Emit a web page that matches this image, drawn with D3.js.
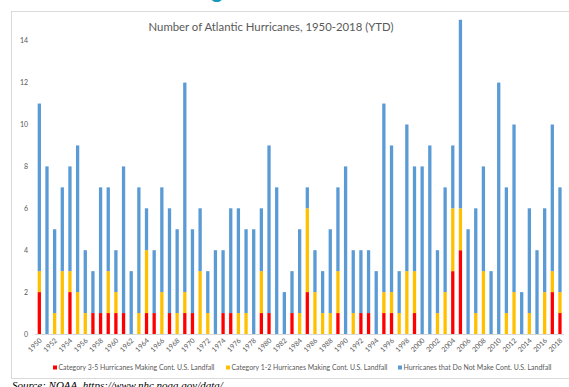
<!DOCTYPE html>
<html><head><meta charset="utf-8">
<script src="https://cdn.jsdelivr.net/npm/d3@7"></script>
<style>body{margin:0;background:#fff;overflow:hidden}svg{display:block}</style>
</head><body><svg id="c" width="569" height="387"></svg>
<script>
const years = d3.range(1950, 2019);
const cat35 = [2,0,0,0,2,0,0,1,1,1,1,1,0,0,1,1,0,1,0,1,1,0,0,0,1,1,0,0,0,1,1,0,0,1,0,2,0,0,0,1,0,0,1,1,0,1,1,0,0,1,0,0,0,0,3,4,0,0,0,0,0,0,0,0,0,0,0,2,1];
const cat12 = [1,0,1,3,1,2,1,0,0,2,1,0,0,1,3,0,2,0,1,1,0,3,1,0,0,0,1,1,0,2,0,0,0,0,1,4,2,1,1,2,0,1,0,0,0,1,1,1,3,2,0,0,1,2,3,2,0,1,3,0,0,1,2,0,1,0,2,1,1];
const totals = [11,8,5,7,8,9,4,3,7,7,4,8,3,7,6,4,7,6,5,12,5,6,3,4,4,6,6,5,5,6,9,7,2,3,5,7,4,3,5,7,8,4,4,4,3,11,9,3,10,8,8,9,4,7,9,15,5,6,8,3,12,7,10,2,6,4,6,10,7];
const seriesNames = ["Category 3-5 Hurricanes Making Cont. U.S. Landfall","Category 1-2 Hurricanes Making Cont. U.S. Landfall","Hurricanes that Do Not Make Cont. U.S. Landfall"];
const colors = ["#FF0000","#FFC000","#5B9BD5"];
const yTicks = [0,2,4,6,8,10,12,14];

const data = years.map((y,i)=>({year:y, a:cat35[i], b:cat12[i], c:totals[i]-cat35[i]-cat12[i]}));
const stack = d3.stack().keys(["a","b","c"])(data);

const svg = d3.select("#c");
// partially visible heading glyph above the chart
svg.append("text").attr("x",211).attr("y",-2).attr("font-family","Lato, sans-serif").attr("font-weight","bold")
  .attr("font-size",22).attr("fill","#1798B8").text("g");

svg.append("rect").attr("x",11.5).attr("y",11.5).attr("width",600).attr("height",367)
  .attr("fill","none").attr("stroke","#d9d9d9");

const x = d3.scaleBand().domain(years).range([35.5,563.8]).paddingInner(0.57).paddingOuter(0.285);
const y = d3.scaleLinear().domain([0,14]).range([334,40.7]);

svg.append("text").attr("x",271).attr("y",31).attr("text-anchor","middle")
  .attr("font-family","Lato, 'Open Sans', sans-serif").attr("font-size",12).attr("fill","#595959")
  .attr("textLength",245).attr("lengthAdjust","spacingAndGlyphs")
  .text("Number of Atlantic Hurricanes, 1950-2018 (YTD)");

const ya = svg.append("g").attr("transform","translate(30,0)")
  .call(d3.axisLeft(y).tickValues(yTicks).tickSize(0).tickPadding(2));
ya.select(".domain").remove();
ya.selectAll("text").attr("font-family","Lato, sans-serif").attr("font-size",7).attr("fill","#595959");

svg.append("line").attr("x1",35).attr("x2",564).attr("y1",334.5).attr("y2",334.5).attr("stroke","#d9d9d9");

svg.append("g").selectAll("g").data(stack).join("g").attr("fill",(d,i)=>colors[i])
  .selectAll("rect").data(d=>d).join("rect")
  .attr("x",d=>x(d.data.year)).attr("width",x.bandwidth())
  .attr("y",d=>y(d[1])).attr("height",d=>y(d[0])-y(d[1]));

const xa = svg.append("g").attr("transform","translate(0,334)")
  .call(d3.axisBottom(x).tickValues(years.filter(v=>(v-1950)%2===0)).tickSize(0).tickPadding(0));
xa.select(".domain").remove();
xa.selectAll("text").attr("font-family","Lato, sans-serif").attr("font-size",7).attr("fill","#595959")
  .attr("text-anchor","end").attr("dy","0").attr("transform","translate(3,7) rotate(-45)");

const legX = [53,226,398];
const legW = [156,156,148];
const leg = svg.append("g").selectAll("g").data(seriesNames).join("g")
  .attr("transform",(d,i)=>`translate(${legX[i]},368)`);
leg.append("rect").attr("x",0).attr("y",-2.5).attr("width",4).attr("height",4).attr("fill",(d,i)=>colors[i]);
leg.append("text").attr("x",5.5).attr("y",2.3).attr("font-family","Lato, sans-serif").attr("font-size",6.6)
  .attr("fill","#595959").attr("textLength",(d,i)=>legW[i]).attr("lengthAdjust","spacingAndGlyphs").text(d=>d);

svg.append("text").attr("x",12).attr("y",389).attr("font-family","'Liberation Serif', serif")
  .attr("font-style","italic").attr("font-size",11).attr("fill","#000")
  .text("Source: NOAA, https://www.nhc.noaa.gov/data/");
</script></body></html>
